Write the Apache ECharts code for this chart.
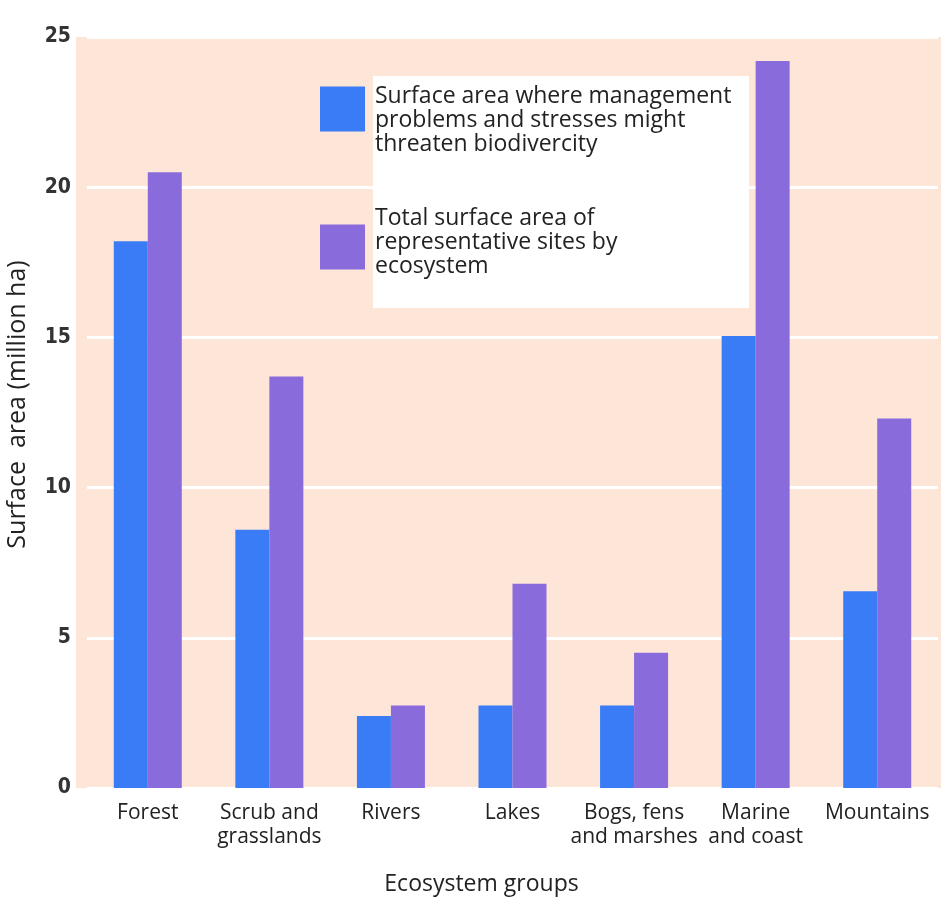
<!DOCTYPE html>
<html>
<head>
<meta charset="utf-8">
<script src="https://cdn.jsdelivr.net/npm/echarts@6/dist/echarts.min.js"></script>
<style>
  html, body { margin: 0; padding: 0; background: #ffffff; }
  #chart { width: 941px; height: 900px; }
</style>
</head>
<body>
<div id="chart"></div>
<script>
// Ecosystem groups and surface areas (million ha)
const categories = ['Forest', 'Scrub and\ngrasslands', 'Rivers', 'Lakes', 'Bogs, fens\nand marshes', 'Marine\nand coast', 'Mountains'];
const threatenedArea = [18.2, 8.6, 2.4, 2.75, 2.75, 15.05, 6.55];
const totalArea = [20.5, 13.7, 2.75, 6.8, 4.5, 24.2, 12.3];
const seriesNames = [
  'Surface area where management\nproblems and stresses might\nthreaten biodivercity',
  'Total surface area of\nrepresentative sites by\necosystem'
];
const yTicks = [0, 5, 10, 15, 20, 25];

const BLUE = '#3a7cf6';
const PURPLE = '#8a6bdb';
const PEACH = '#fde5d8';

// Legend swatches: a 45px square plus an invisible anchor point, so the swatch
// sits a little above (first entry) or below (second entry) the text centre.
const ICON_HIGH = 'path://M0,0L45,0L45,45L0,45Z M0,67L0.01,67L0,67Z';
const ICON_LOW = 'path://M0,0L0.01,0L0,0Z M0,10L45,10L45,55L0,55Z';

const chart = echarts.init(document.getElementById('chart'));

chart.setOption({
  backgroundColor: '#ffffff',
  animation: false,
  grid: { left: 87, right: 3, top: 37, bottom: 112, outerBoundsMode: 'none', containLabel: false },
  graphic: [
    { type: 'rect', z: -10, shape: { x: 76, y: 37, width: 865, height: 751 }, style: { fill: PEACH } },
    { type: 'rect', z: 3, shape: { x: 373, y: 76, width: 376, height: 232 }, style: { fill: '#ffffff' } }
  ],
  legend: {
    orient: 'vertical',
    left: 315,
    top: 79,
    padding: 5,
    itemWidth: 45,
    itemHeight: 67,
    itemGap: 50,
    z: 5,
    selectedMode: false,
    textStyle: { fontFamily: 'Open Sans', fontSize: 23, lineHeight: 24, color: '#222', padding: [0, 0, 0, 5] },
    data: [
      { name: seriesNames[0], icon: ICON_HIGH },
      { name: seriesNames[1], icon: ICON_LOW }
    ]
  },
  xAxis: {
    type: 'category',
    data: categories,
    axisLine: { show: false },
    axisTick: { show: false },
    axisLabel: { fontFamily: 'Open Sans', fontSize: 21, lineHeight: 24, color: '#222', margin: 13, interval: 0 },
    name: 'Ecosystem groups',
    nameLocation: 'middle',
    nameGap: 85,
    nameTextStyle: { fontFamily: 'Open Sans', fontSize: 23, color: '#222', padding: [0, 62, 0, 0] }
  },
  yAxis: {
    type: 'value',
    min: 0,
    max: 25,
    interval: 5,
    axisLine: { show: false },
    axisTick: { show: false },
    axisLabel: {
      fontFamily: "'Liberation Sans Narrow', 'DejaVu Sans Condensed', sans-serif",
      fontWeight: 'bold', fontSize: 21, color: '#333', margin: 16,
      formatter: v => (yTicks.includes(v) ? String(v) : '')
    },
    splitLine: { show: true, lineStyle: { color: '#ffffff', width: 3 } },
    name: 'Surface  area (million ha)',
    nameLocation: 'middle',
    nameGap: 57,
    nameTextStyle: { fontFamily: 'Open Sans', fontSize: 25, color: '#222', padding: [0, 0, 0, 16] }
  },
  series: [
    {
      name: seriesNames[0], type: 'bar', data: threatenedArea,
      barWidth: 34, barGap: '0%',
      itemStyle: { color: BLUE }
    },
    {
      name: seriesNames[1], type: 'bar', data: totalArea,
      barWidth: 34, barGap: '0%',
      itemStyle: { color: PURPLE }
    }
  ]
});
</script>
</body>
</html>
